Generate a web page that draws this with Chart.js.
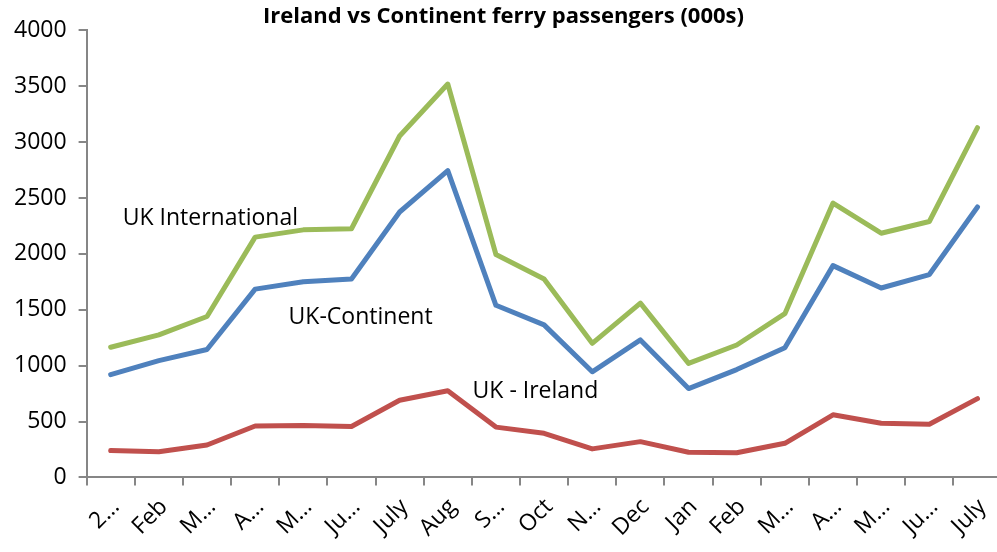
<!DOCTYPE html>
<html>
<head>
<meta charset="utf-8">
<script src="https://cdn.jsdelivr.net/npm/chart.js@4.4.0/dist/chart.umd.min.js"></script>
<style>
  html, body { margin: 0; padding: 0; background: #fff; overflow: hidden; }
  #wrap { width: 1005px; height: 552px; position: relative; }
</style>
</head>
<body>
<div id="wrap"><canvas id="chart"></canvas></div>
<script>
const months = ['2…', 'Feb', 'M…', 'A…', 'M…', 'Ju…', 'July', 'Aug', 'S…', 'Oct', 'N…', 'Dec',
  'Jan', 'Feb', 'M…', 'A…', 'M…', 'Ju…', 'July'];
const ukInternational = [1165, 1275, 1440, 2150, 2215, 2225, 3055, 3520, 1995, 1775, 1200, 1560,
  1020, 1185, 1465, 2455, 2185, 2290, 3130];
const ukContinent = [920, 1045, 1145, 1685, 1750, 1775, 2375, 2745, 1540, 1365, 945, 1230,
  795, 965, 1160, 1895, 1695, 1815, 2420];
const ukIreland = [240, 230, 290, 460, 465, 455, 690, 775, 450, 395, 255, 320,
  225, 220, 305, 560, 485, 475, 705];
const seriesNames = ['UK International', 'UK-Continent', 'UK - Ireland'];
// label anchors in data units: [category index, value]
const labelSpots = [[2.07, 2315], [5.19, 1428], [8.82, 772]];

const FONT = "'Open Sans', 'DejaVu Sans', sans-serif";

const inlineLabels = {
  id: 'inlineLabels',
  afterDatasetsDraw(chart) {
    const { ctx, scales: { x, y } } = chart;
    ctx.save();
    ctx.font = '23px ' + FONT;
    ctx.fillStyle = '#000';
    ctx.textAlign = 'center';
    ctx.textBaseline = 'middle';
    seriesNames.forEach((name, i) => {
      const [idx, val] = labelSpots[i];
      ctx.fillText(name, x.getPixelForValue(idx), y.getPixelForValue(val));
    });
    ctx.restore();
  }
};

const line = (data, color) => ({
  data, borderColor: color, backgroundColor: color,
  borderWidth: 5, pointRadius: 0, tension: 0, borderCapStyle: 'round', borderJoinStyle: 'round'
});

new Chart(document.getElementById('chart'), {
  type: 'line',
  data: {
    labels: months,
    datasets: [
      line(ukInternational, '#9BBB59'),
      line(ukContinent, '#4F81BD'),
      line(ukIreland, '#C0504D')
    ]
  },
  options: {
    responsive: true,
    maintainAspectRatio: false,
    animation: false,
    layout: { padding: { left: 2, top: 0, right: 0, bottom: 2 } },
    plugins: {
      legend: { display: false },
      tooltip: { enabled: false },
      title: {
        display: true,
        text: 'Ireland vs Continent ferry passengers (000s)',
        color: '#000',
        font: { family: FONT, size: 22, weight: 'bold' },
        padding: { top: 4, bottom: 0 }
      }
    },
    scales: {
      x: {
        offset: true,
        border: { color: '#868686', width: 2 },
        grid: { offset: true, drawOnChartArea: false, color: '#868686', tickLength: 8, lineWidth: 2 },
        ticks: {
          color: '#000', autoSkip: false, minRotation: 45, maxRotation: 45,
          font: { family: FONT, size: 23 }, padding: 8, labelOffset: 5
        }
      },
      y: {
        min: 0, max: 4000,
        border: { color: '#868686', width: 2 },
        grid: { drawOnChartArea: false, color: '#868686', tickLength: 8, lineWidth: 2 },
        ticks: {
          stepSize: 500, color: '#000', callback: v => String(v),
          font: { family: FONT, size: 23 }, padding: 12
        }
      }
    }
  },
  plugins: [inlineLabels]
});
</script>
</body>
</html>
